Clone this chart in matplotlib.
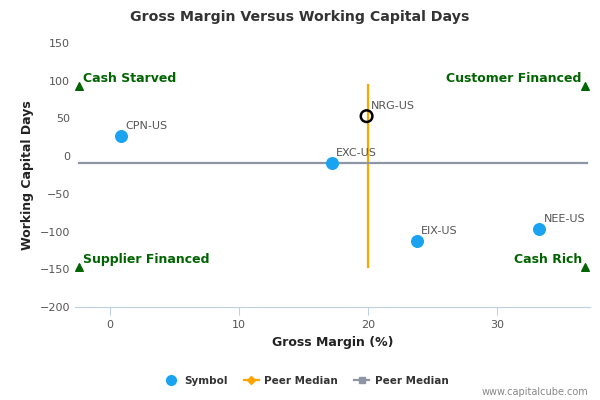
import numpy as np
import matplotlib
matplotlib.use('Agg')
import matplotlib.pyplot as plt
from matplotlib.lines import Line2D

symbols = ['CPN-US', 'EXC-US', 'NRG-US', 'EIX-US', 'NEE-US']
gross_margin = [0.85, 17.2, 19.9, 23.8, 33.3]
wc_days = [26.5, -9.3, 53, -113, -97]
highlight = 'NRG-US'

median_x = 20.0
median_y = -9.3
median_y_span = [-147, 94]
median_x_span = [-2.4, 37.0]

quadrants = ['Cash Starved', 'Supplier Financed', 'Customer Financed', 'Cash Rich']
quad_x = [-2.4, -2.4, 36.8, 36.8]
quad_y = [93, -147, 93, -147]

xticks = [0, 10, 20, 30]
yticks = [-200, -150, -100, -50, 0, 50, 100, 150]

plt.rcParams['font.family'] = 'DejaVu Sans'
fig = plt.figure(figsize=(6, 4), dpi=100)
ax = fig.add_axes([0.125, 0.2325, 0.858, 0.66])

ax.plot([median_x, median_x], median_y_span, color='#FFA500', lw=1.6, zorder=2)
ax.plot(median_x_span, [median_y, median_y], color='#8E96A6', lw=1.6, zorder=2)

for s, x, y in zip(symbols, gross_margin, wc_days):
    if s == highlight:
        ax.scatter(x, y, s=70, facecolor='none', edgecolor='black', lw=1.8, zorder=4)
    else:
        ax.scatter(x, y, s=70, color='#1AA3F0', zorder=3)
    ax.annotate(s, (x, y), xytext=(3, 5), textcoords='offset points',
                fontsize=8, color='#555555')

for q, x, y in zip(quadrants, quad_x, quad_y):
    ax.scatter(x, y, marker='^', s=30, color='#006400', zorder=3)
    if x < 10:
        ax.annotate(q, (x, y), xytext=(3, 3), textcoords='offset points',
                    fontsize=9, fontweight='bold', color='#006400', ha='left')
    else:
        ax.annotate(q, (x, y), xytext=(-2, 3), textcoords='offset points',
                    fontsize=9, fontweight='bold', color='#006400', ha='right')

ax.set_xlim(-2.7, 37.2)
ax.set_ylim(-200, 150)
ax.set_xticks(xticks)
ax.set_yticks(yticks)
ax.tick_params(axis='x', colors='#C0D0E0', labelcolor='#555555', labelsize=8, length=6)
ax.tick_params(axis='y', length=0, labelcolor='#555555', labelsize=8)
for sp in ['top', 'right', 'left']:
    ax.spines[sp].set_visible(False)
ax.spines['bottom'].set_color('#C0D0E0')

ax.set_xlabel('Gross Margin (%)', fontsize=9, fontweight='bold', color='#222222')
ax.set_ylabel('Working Capital Days', fontsize=9, fontweight='bold', color='#222222')

fig.suptitle('Gross Margin Versus Working Capital Days', x=0.5, y=0.975,
             fontsize=10.2, fontweight='bold', color='#333333')

handles = [
    Line2D([], [], marker='o', color='#1AA3F0', ls='none', markersize=7),
    Line2D([], [], marker='D', color='#FFA500', lw=1.6, markersize=4),
    Line2D([], [], marker='s', color='#8E96A6', lw=1.6, markersize=5),
]
fig.legend(handles, ['Symbol', 'Peer Median', 'Peer Median'], loc='center',
           bbox_to_anchor=(0.51, 0.048), ncol=3, frameon=False,
           prop={'size': 7.5, 'weight': 'bold'}, labelcolor='#333333',
           handlelength=1.5, handletextpad=0.5, columnspacing=1.5)

fig.text(0.98, 0.008, 'www.capitalcube.com', ha='right', va='bottom',
         fontsize=7, color='#888888')

fig.savefig('out.png', dpi=100)
